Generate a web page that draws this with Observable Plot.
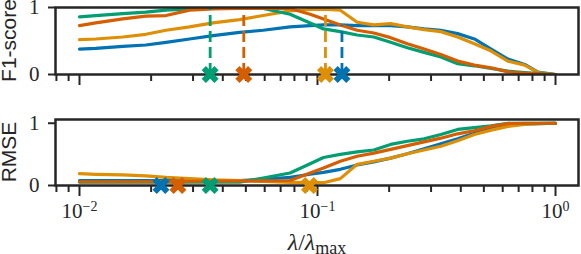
<!DOCTYPE html>
<html><head><meta charset="utf-8">
<script src="https://cdn.jsdelivr.net/npm/d3@7"></script>
<script src="https://cdn.jsdelivr.net/npm/@observablehq/plot@0.6"></script>
<style>body{margin:0;background:#fff} svg{display:block;overflow:visible}</style>
</head><body><div id="chart"></div>
<script>
// λ/λmax sample grid
const lambdas = [0.0100, 0.0117, 0.0152, 0.0190, 0.0231, 0.0290, 0.0364, 0.0471, 0.0591, 0.0767, 0.0931, 0.106, 0.1247, 0.1467, 0.1724, 0.2028, 0.2385, 0.2805, 0.3298, 0.3879, 0.4561, 0.5366, 0.631, 0.742, 0.845, 1.0];

const seriesNames = ["blue", "orange", "green", "vermillion"];
const seriesColors = ["#0173b2", "#de8f05", "#029e73", "#d55e00"];

// F1-score
const f1Blue       = [0.38, 0.39, 0.42, 0.44, 0.48, 0.53, 0.58, 0.63, 0.66, 0.71, 0.73, 0.74, 0.74, 0.73, 0.73, 0.73, 0.71, 0.68, 0.66, 0.61, 0.53, 0.38, 0.23, 0.15, 0.035, 0.0];
const f1Orange     = [0.52, 0.53, 0.56, 0.60, 0.66, 0.71, 0.77, 0.82, 0.88, 0.95, 0.97, 0.975, 0.96, 0.78, 0.74, 0.76, 0.71, 0.67, 0.64, 0.56, 0.46, 0.35, 0.20, 0.14, 0.03, 0.0];
const f1Green      = [0.86, 0.88, 0.91, 0.93, 0.96, 0.98, 0.99, 0.99, 0.985, 0.90, 0.77, 0.68, 0.64, 0.59, 0.56, 0.48, 0.40, 0.33, 0.26, 0.16, 0.13, 0.09, 0.05, 0.03, 0.015, 0.0];
const f1Vermillion = [0.73, 0.77, 0.83, 0.87, 0.88, 0.96, 0.98, 0.985, 0.985, 0.985, 0.90, 0.83, 0.74, 0.66, 0.62, 0.55, 0.46, 0.38, 0.30, 0.20, 0.14, 0.10, 0.04, 0.02, 0.01, 0.0];

// RMSE
const rmseBlue       = [0.08, 0.08, 0.08, 0.08, 0.08, 0.08, 0.075, 0.08, 0.10, 0.13, 0.18, 0.21, 0.26, 0.33, 0.38, 0.44, 0.51, 0.59, 0.67, 0.75, 0.84, 0.93, 0.98, 0.99, 0.995, 1.0];
const rmseOrange     = [0.19, 0.18, 0.17, 0.155, 0.13, 0.11, 0.09, 0.08, 0.065, 0.05, 0.045, 0.045, 0.11, 0.34, 0.39, 0.44, 0.51, 0.57, 0.63, 0.72, 0.82, 0.89, 0.95, 0.98, 0.995, 1.0];
const rmseGreen      = [0.055, 0.055, 0.055, 0.055, 0.055, 0.055, 0.055, 0.055, 0.12, 0.20, 0.35, 0.45, 0.50, 0.54, 0.57, 0.66, 0.71, 0.75, 0.82, 0.90, 0.93, 0.96, 1.0, 1.0, 1.0, 1.0];
const rmseVermillion = [0.06, 0.06, 0.06, 0.06, 0.06, 0.065, 0.07, 0.07, 0.075, 0.08, 0.20, 0.28, 0.39, 0.47, 0.52, 0.58, 0.64, 0.70, 0.76, 0.83, 0.88, 0.95, 0.995, 1.0, 1.0, 1.0];

// best points
const bestF1Lambda   = [0.1267, 0.108, 0.0354, 0.049];
const bestF1Value    = [0.735, 0.97, 1.0, 1.0];
const bestRmseLambda = [0.022, 0.0925, 0.0354, 0.0259];

const majorTicks = [0.01, 0.1, 1];
const minorTicks = [0.008, 0.009, 0.02, 0.03, 0.04, 0.05, 0.06, 0.07, 0.08, 0.09, 0.2, 0.3, 0.4, 0.5, 0.6, 0.7, 0.8, 0.9];
const yTicksF1 = [0, 1];
const yTicksRmse = [0, 1];

const f1Series = [f1Blue, f1Orange, f1Green, f1Vermillion];
const rmseSeries = [rmseBlue, rmseOrange, rmseGreen, rmseVermillion];
const tidy = (arrs) => arrs.flatMap((a, i) => a.map((v, j) => ({lambda: lambdas[j], value: v, s: seriesNames[i]})));
const f1Data = tidy(f1Series);
const rmseData = tidy(rmseSeries);
const bestF1 = seriesNames.map((s, i) => ({s, lambda: bestF1Lambda[i], value: bestF1Value[i], zero: 0}));
const bestRmse = seriesNames.map((s, i) => ({s, lambda: bestRmseLambda[i], zero: 0}));

const ink = "#262626";
const xDomain = [10 ** -2.1008, 10 ** 0.0966];

// filled "X" marker (notched square)
const xMarker = {
  draw(ctx, size) {
    const S = 2 * Math.sqrt(size / Math.PI);
    const pts = [[0.25,0],[0.5,0.25],[0.75,0],[1,0.25],[0.75,0.5],[1,0.75],[0.75,1],[0.5,0.75],[0.25,1],[0,0.75],[0.25,0.5],[0,0.25]];
    pts.forEach(([x, y], i) => {
      const px = (x - 0.5) * S, py = (y - 0.5) * S;
      if (i === 0) ctx.moveTo(px, py); else ctx.lineTo(px, py);
    });
    ctx.closePath();
  }
};

const common = {
  width: 581,
  marginLeft: 55,
  marginRight: 3,
  style: {fontFamily: "'Liberation Serif', serif", fontSize: "21px", color: ink, background: "#fff"},
  color: {domain: seriesNames, range: seriesColors}
};

const topPlot = Plot.plot({
  ...common,
  height: 100,
  marginTop: 7,
  marginBottom: 26,
  x: {type: "log", domain: xDomain},
  y: {domain: [0, 1]},
  marks: [
    Plot.axisY(yTicksF1, {tickSize: 7, tickPadding: 9, strokeWidth: 2, tickFormat: d => String(d), label: null}),
    Plot.axisX(minorTicks, {tickSize: 7, strokeWidth: 2, tickFormat: () => "", label: null}),
    Plot.axisX(majorTicks, {tickSize: 11, strokeWidth: 2, tickFormat: () => "", label: null}),
    Plot.line(f1Data, {x: "lambda", y: "value", z: "s", stroke: "s", strokeWidth: 3.2, clip: true}),
    Plot.ruleX(bestF1, {x: "lambda", y1: "zero", y2: "value", stroke: "s", strokeWidth: 2.8, strokeDasharray: "11,5"}),
    Plot.frame({stroke: ink, strokeWidth: 2.5}),
    Plot.dot(bestF1, {x: "lambda", y: "zero", fill: "s", r: 8.5, symbol: xMarker})
  ]
});

const bottomPlot = Plot.plot({
  ...common,
  height: 154,
  marginTop: 19,
  marginBottom: 69,
  x: {type: "log", domain: xDomain},
  y: {domain: [0, 1.06]},
  marks: [
    Plot.axisY(yTicksRmse, {tickSize: 7, tickPadding: 9, strokeWidth: 2, tickFormat: d => String(d), label: null}),
    Plot.axisX(minorTicks, {tickSize: 7, strokeWidth: 2, tickFormat: () => "", label: null}),
    Plot.axisX(majorTicks, {tickSize: 11, tickPadding: 7, strokeWidth: 2, tickFormat: d => "10^" + Math.round(Math.log10(d)), label: null}),
    Plot.line(rmseData, {x: "lambda", y: "value", z: "s", stroke: "s", strokeWidth: 3.2, clip: true}),
    Plot.frame({stroke: ink, strokeWidth: 2.5}),
    Plot.dot(bestRmse, {x: "lambda", y: "zero", fill: "s", r: 8.5, symbol: xMarker})
  ]
});

const chart = document.getElementById("chart");
chart.append(topPlot, bottomPlot);

// superscript exponents in tick labels
d3.select(bottomPlot).selectAll("text").each(function () {
  const t = this.textContent;
  const m = /^10\^(-?\d+)$/.exec(t);
  if (m) {
    const sel = d3.select(this);
    sel.text("10");
    sel.append("tspan").attr("dy", "-7").attr("font-size", "14px").text(m[1].replace("-", "\u2212"));
  }
});

// y-axis titles
const yTitle = (svg, label, cy) => {
  d3.select(svg).append("text")
    .attr("transform", `translate(16,${cy}) rotate(-90)`)
    .attr("text-anchor", "middle")
    .attr("fill", ink)
    .style("font-family", "'Liberation Sans', Arial, sans-serif")
    .style("font-size", "21px")
    .text(label);
};
yTitle(topPlot, "F1-score", 40.5);
yTitle(bottomPlot, "RMSE", 52);

// x-axis title
const xt = d3.select(bottomPlot).append("text")
  .attr("x", 317).attr("y", 150)
  .attr("text-anchor", "middle")
  .attr("fill", ink)
  .style("font-family", "'Liberation Serif', serif")
  .style("font-size", "24px");
xt.append("tspan").style("font-style", "italic").text("λ");
xt.append("tspan").text("/");
xt.append("tspan").style("font-style", "italic").text("λ");
xt.append("tspan").attr("dy", "4").style("font-size", "18px").text("max");
</script>
</body></html>
